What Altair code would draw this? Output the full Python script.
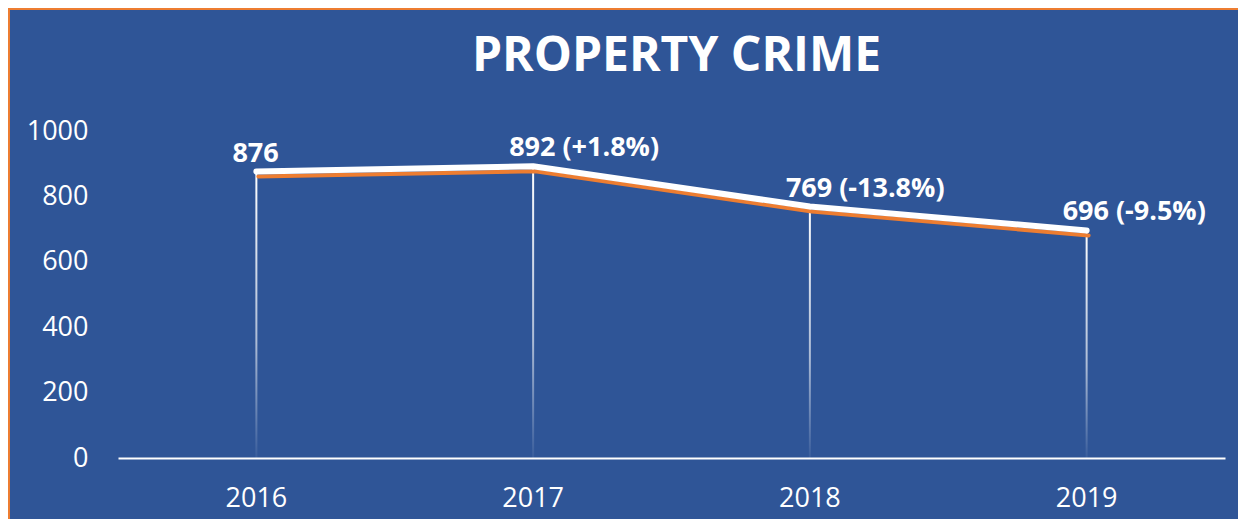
import altair as alt
import pandas as pd

years = ["2016", "2017", "2018", "2019"]
values = [876, 892, 769, 696]
labels = ["876", "892 (+1.8%)", "769 (-13.8%)", "696 (-9.5%)"]
y_ticks = [0, 200, 400, 600, 800, 1000]

BLUE = "#2F5597"
ORANGE = "#ED7D31"
FONT = "Open Sans"

df = pd.DataFrame({"year": years, "value": values, "label": labels})

W, H = 1107, 327
PAD = {"left": 110, "top": 123, "right": 13, "bottom": 61}

x = alt.X("year:N", sort=years, title=None,
          scale=alt.Scale(paddingInner=0, paddingOuter=0),
          axis=alt.Axis(labelAngle=0, labelColor="white", labelFont=FONT,
                        labelFontSize=27, labelPadding=27, ticks=False, tickSize=0,
                        domainColor="white", domainWidth=2, grid=False))
y = alt.Y("value:Q", title=None,
          scale=alt.Scale(domain=[0, 1000], nice=False),
          axis=alt.Axis(values=y_ticks, format="d", labelColor="white", labelFont=FONT,
                        labelFontSize=27, labelPadding=30, ticks=False, tickSize=0,
                        domain=False, grid=False))

base = alt.Chart(df)

grad = {
    "gradient": "linear", "x1": 0, "x2": 0, "y1": 0, "y2": 1,
    "stops": [{"offset": 0, "color": "rgba(255,255,255,1)"},
              {"offset": 0.6, "color": "rgba(255,255,255,0.6)"},
              {"offset": 1, "color": "rgba(255,255,255,0.05)"}],
}
drops = base.mark_bar(size=2, fill=grad).encode(x=x, y=y)

shadow = base.mark_line(color=ORANGE, strokeWidth=4, yOffset=5, xOffset=2,
                        strokeCap="round", strokeJoin="round").encode(x=x, y=y)
line = base.mark_line(color="white", strokeWidth=6, strokeCap="round",
                      strokeJoin="round").encode(x=x, y=y)

text = base.mark_text(align="left", baseline="alphabetic", dx=-24, dy=-10,
                      fontSize=27, fontWeight="bold", font=FONT,
                      color="white").encode(x=x, y=y, text="label:N")

border_top = alt.Chart(df).mark_rule(color=ORANGE, strokeWidth=2).encode(
    x=alt.value(-110), x2=alt.value(W + PAD["right"]), y=alt.value(-122))
border_left = alt.Chart(df).mark_rule(color=ORANGE, strokeWidth=2).encode(
    x=alt.value(-109), y=alt.value(-123), y2=alt.value(H + PAD["bottom"]))

chart = alt.layer(drops, shadow, line, text, border_top, border_left).properties(
    width=W, height=H,
    autosize=alt.AutoSizeParams(type="none"),
    padding=PAD,
    background=BLUE,
    title=alt.Title("PROPERTY CRIME", color="white", font=FONT, fontSize=48,
                    fontWeight="bold", anchor="middle", baseline="alphabetic",
                    offset=0, dy=112, dx=5),
).configure_view(stroke="transparent")

chart.save("out.html", embed_options={"renderer": "svg", "actions": False})
